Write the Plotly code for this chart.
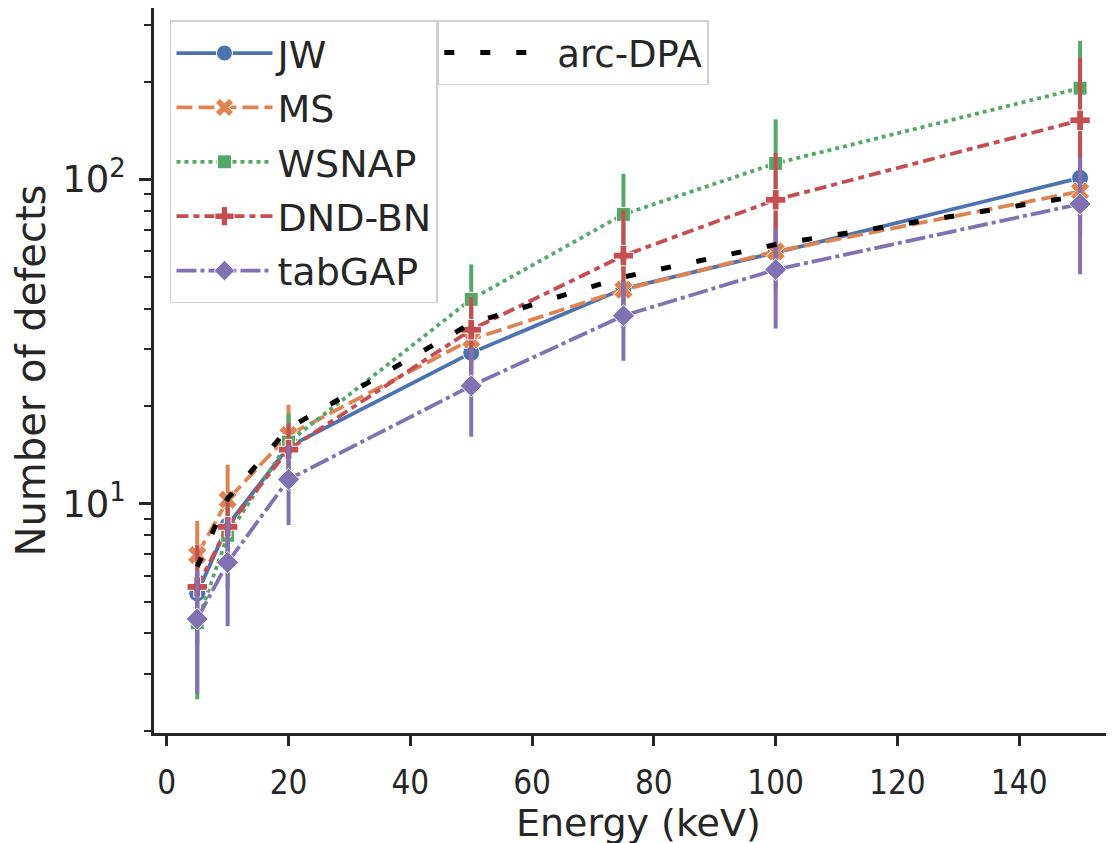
import plotly.graph_objects as go

energy = [5, 10, 20, 50, 75, 100, 150]

jw = [5.3, 8.6, 15.0, 29.2, 46.0, 59.5, 101.0]
ms = [6.96, 10.3, 16.3, 32.1, 45.7, 60.0, 91.8]
ms_err = [1.9, 2.9, 3.9, 8.0, 11.0, 14.0, 22.0]
wsnap = [4.3, 8.0, 15.5, 42.7, 78.0, 112.0, 191.0]
wsnap_err = [1.8, 2.5, 3.5, 12.0, 26.0, 41.0, 76.0]
dndbn = [5.55, 8.5, 14.7, 34.4, 58.2, 86.5, 152.0]
dndbn_err = [1.9, 2.0, 3.0, 9.0, 22.0, 34.0, 85.0]
tabgap = [4.42, 6.6, 11.9, 23.1, 38.0, 52.7, 84.0]
tabgap_err = [1.82, 2.4, 3.3, 7.0, 10.4, 18.0, 33.0]
arc_dpa = [6.4, 10.4, 17.1, 36.0, 50.0, 63.0, 89.0]

x_ticks = [0, 20, 40, 60, 80, 100, 120, 140]
y_ticks = [10, 100]
y_ticktext = ["10<sup>1</sup>", "10<sup>2</sup>"]
y_minor = [2, 3, 4, 5, 6, 7, 8, 9, 20, 30, 40, 50, 60, 70, 80, 90, 200, 300]

INK = "#262626"
FONT = "DejaVu Sans"

series = [
    ("JW", jw, None, "#4C72B0", "circle", "solid", 17),
    ("MS", ms, ms_err, "#DD8452", "x", "16px,6px", 17),
    ("WSNAP", wsnap, wsnap_err, "#55A868", "square", "4px,4px", 14),
    ("DND-BN", dndbn, dndbn_err, "#C44E52", "cross", "12px,5px,6px,5px", 17),
    ("tabGAP", tabgap, tabgap_err, "#8172B3", "diamond", "20px,4px,4px,4px", 17),
]

fig = go.Figure()
for name, vals, err, col, sym, dash, msize in series:
    kw = {}
    if err is not None:
        kw["error_y"] = dict(type="data", array=err, visible=True, color=col,
                             thickness=4, width=0)
    fig.add_trace(go.Scatter(
        x=energy, y=vals, name=name, mode="lines+markers",
        line=dict(color=col, width=3.8, dash=dash),
        marker=dict(symbol=sym, size=msize, color=col,
                    line=dict(color="white", width=1)),
        legend="legend2", legendgroup=name, **kw))

fig.add_trace(go.Scatter(
    x=energy, y=arc_dpa, name="arc-DPA", mode="lines",
    line=dict(color="black", width=5, dash="10px,26px"),
    legend="legend"))

fig.update_layout(
    width=1114, height=843,
    margin=dict(l=146, r=6, t=0, b=118, autoexpand=False),
    paper_bgcolor="white", plot_bgcolor="white",
    font=dict(family=FONT, color=INK, size=30),
    legend=dict(x=0.295, y=0.983, xanchor="left", yanchor="top",
                bgcolor="rgba(255,255,255,0.8)", bordercolor="#d0d0d0",
                borderwidth=1.5, font=dict(size=37, family=FONT, color=INK),
                itemwidth=108),
    legend2=dict(x=0.0166, y=0.983, xanchor="left", yanchor="top",
                 bgcolor="rgba(255,255,255,0.85)", bordercolor="#d0d0d0",
                 borderwidth=1.5, font=dict(size=38, family=FONT, color=INK),
                 itemwidth=96, tracegroupgap=2, traceorder="grouped"),
    showlegend=True,
    annotations=[dict(text="Energy (keV)", xref="paper", yref="paper",
                      x=0.504, y=0, xanchor="center", yanchor="middle",
                      yshift=-90, showarrow=False,
                      font=dict(size=38, family=FONT, color=INK))],
)

fig.update_xaxes(
    range=[-2.1, 155.9], tickvals=x_ticks, showgrid=False, zeroline=False,
    showline=True, linecolor=INK, linewidth=2.5, mirror=True,
    ticks="outside", ticklen=10, tickwidth=2.5, tickcolor=INK,
    tickfont=dict(size=33, family="DejaVu Sans Condensed, DejaVu Sans", color=INK),
    ticklabelstandoff=9, automargin=False,
)
fig.update_yaxes(
    type="log", range=[0.294, 2.528], tickvals=y_ticks, ticktext=y_ticktext,
    showgrid=False, zeroline=False,
    showline=True, linecolor=INK, linewidth=2.5, mirror=False,
    ticks="outside", ticklen=12, tickwidth=2.5, tickcolor=INK,
    tickfont=dict(size=37, family=FONT, color=INK), automargin=False,
    ticklabelstandoff=6,
    minor=dict(tickvals=y_minor, ticks="outside", ticklen=7, tickwidth=2, tickcolor=INK, showgrid=False),
    title=dict(text="Number of defects", font=dict(size=40, family=FONT, color=INK), standoff=8),
)

fig.write_html("out.html")
